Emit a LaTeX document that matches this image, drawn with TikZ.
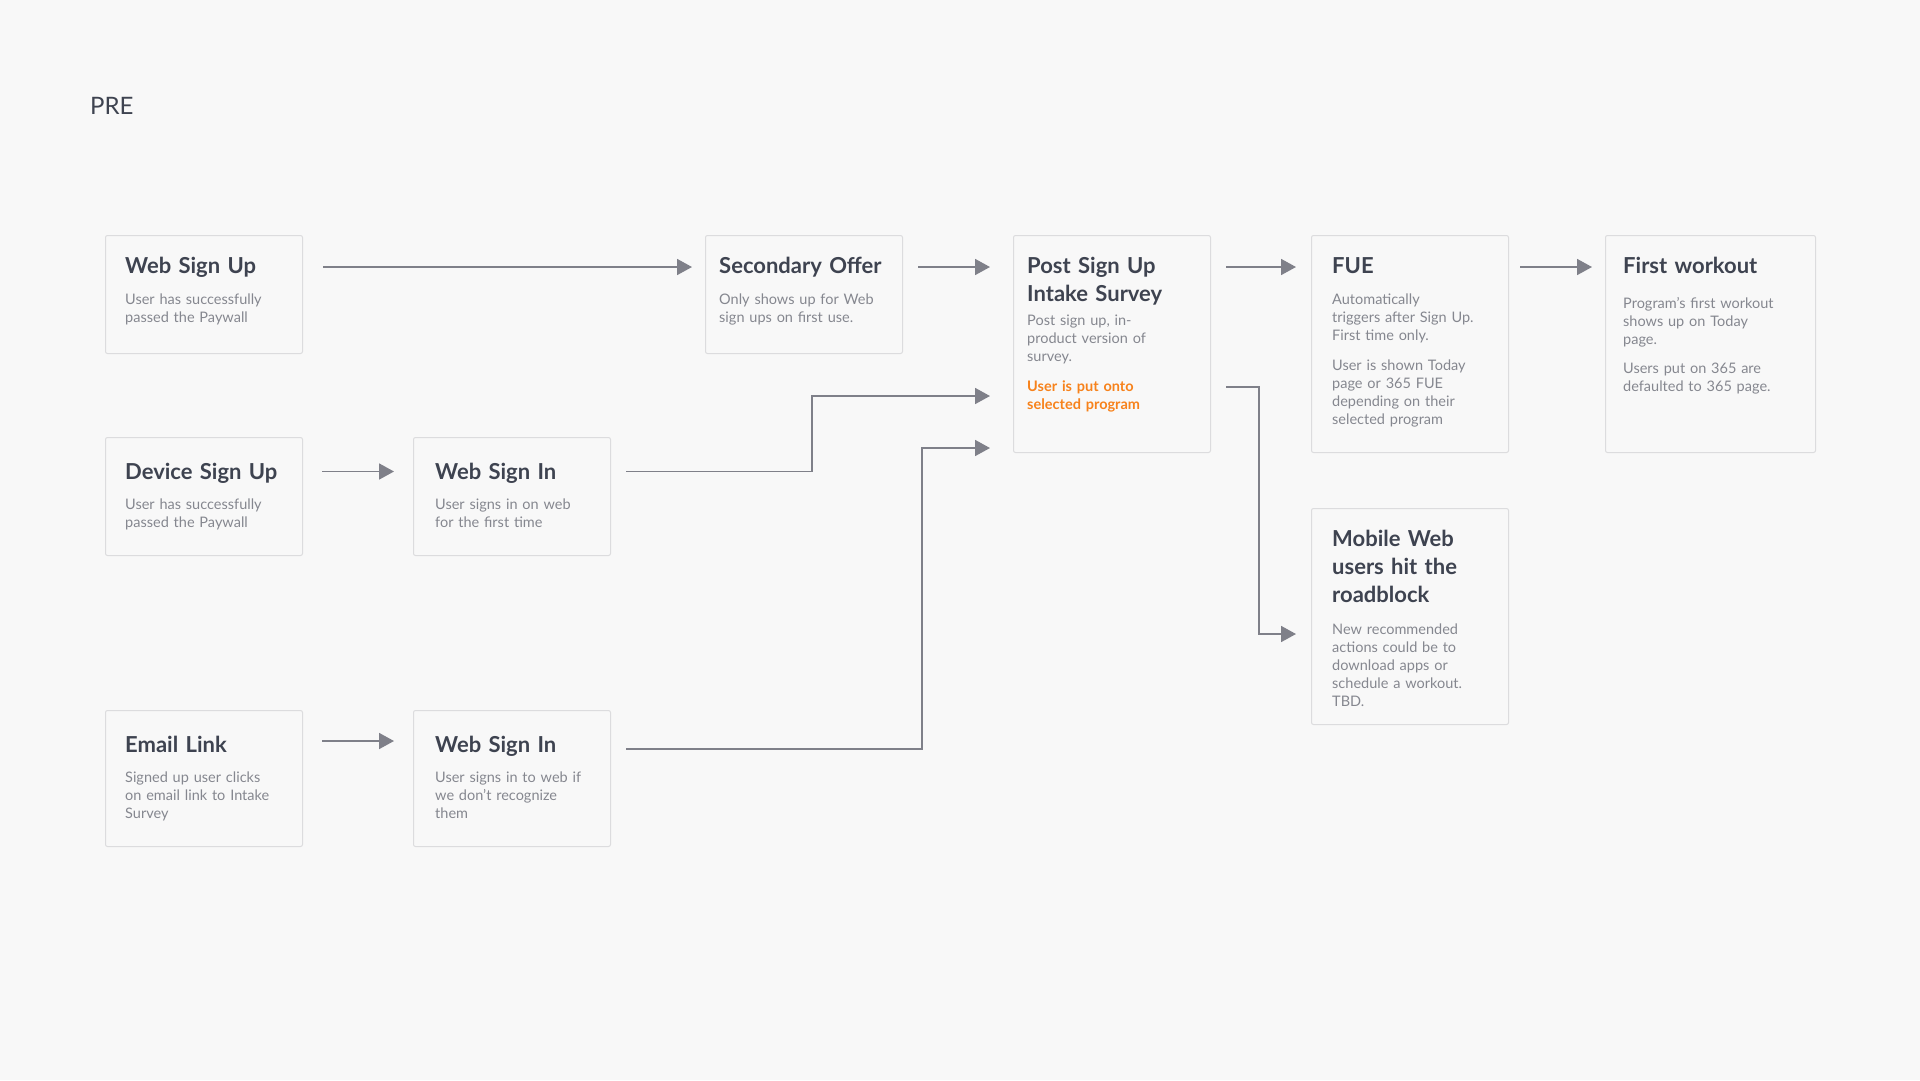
\documentclass[tikz,border=0pt]{standalone}
\usepackage{fontspec}
\setmainfont{Lato}
\usetikzlibrary{positioning,arrows.meta}

\definecolor{paper}{HTML}{F8F8F8}
\definecolor{frame}{HTML}{DCDCDE}
\definecolor{ink}{HTML}{3E4350}
\definecolor{slate}{HTML}{85878F}
\definecolor{wire}{HTML}{7F8089}
\definecolor{picked}{HTML}{F7821B}

\begin{document}
\begin{tikzpicture}[x=1pt,y=-1pt,
  card/.style={draw=frame,line width=1pt,fill=paper,rounded corners=2pt,
    anchor=north west,inner sep=0pt,minimum width=197pt},
  heading/.style={inner sep=0pt,text width=250pt,align=left,text=ink,
    font=\fontsize{22}{28}\selectfont\bfseries,
    execute at begin node=\strut,execute at end node=\strut},
  blurb/.style={inner sep=0pt,text width=250pt,align=left,text=slate,
    font=\fontsize{14.5}{18}\selectfont,execute at begin node=\strut},
  flow/.style={draw=wire,line width=1.8pt,-{Triangle[length=15pt,width=16pt]},
    shorten <=15pt,shorten >=15pt}]

  \fill[paper] (0,0) rectangle (1920,1080);
  \useasboundingbox (0,0) rectangle (1920,1080);

  \node[anchor=base west,inner sep=0pt,text=ink,font=\fontsize{24}{30}\selectfont] (pre) at (90,114) {PRE};

  % top row
  \node[card,minimum height=118pt] (websignup) at (105,235) {};
  \node[heading,below right=18.4pt and 20pt of websignup.north west] (websignup-t) {Web Sign Up};
  \node[blurb,below right=10pt and 0pt of websignup-t.south west] (websignup-d) {User has successfully\\passed the Paywall};

  \node[card,minimum height=118pt] (offer) at (705,235) {};
  \node[heading,below right=18.4pt and 14pt of offer.north west] (offer-t) {Secondary Offer};
  \node[blurb,below right=10pt and 0pt of offer-t.south west] (offer-d) {Only shows up for Web\\sign ups on first use.};

  \node[card,minimum height=217pt] (survey) at (1013,235) {};
  \node[heading,below right=18.4pt and 14pt of survey.north west] (survey-t) {Post Sign Up\\Intake Survey};
  \node[blurb,below right=3pt and 0pt of survey-t.south west] (survey-d) {Post sign up, in-\\product version of\\survey.\par\vspace{12pt}%
    {\color{picked}\bfseries User is put onto\\selected program}};

  \node[card,minimum height=217pt] (fue) at (1311,235) {};
  \node[heading,below right=18.4pt and 21pt of fue.north west] (fue-t) {FUE};
  \node[blurb,below right=10pt and 0pt of fue-t.south west] (fue-d) {Automatically\\triggers after Sign Up.\\First time only.\par\vspace{12pt}%
    User is shown Today\\page or 365 FUE\\depending on their\\selected program};

  \node[card,minimum width=210pt,minimum height=217pt] (workout) at (1605,235) {};
  \node[heading,below right=18.4pt and 18pt of workout.north west] (workout-t) {First workout};
  \node[blurb,below right=14pt and 0pt of workout-t.south west] (workout-d) {Program’s first workout\\shows up on Today\\page.\par\vspace{11pt}%
    Users put on 365 are\\defaulted to 365 page.};

  % second row
  \node[card,minimum height=118pt] (device) at (105,437) {};
  \node[heading,below right=22.4pt and 20pt of device.north west] (device-t) {Device Sign Up};
  \node[blurb,below right=9pt and 0pt of device-t.south west] (device-d) {User has successfully\\passed the Paywall};

  \node[card,minimum height=118pt] (signinweb) at (413,437) {};
  \node[heading,below right=22.4pt and 22pt of signinweb.north west] (signinweb-t) {Web Sign In};
  \node[blurb,below right=9pt and 0pt of signinweb-t.south west] (signinweb-d) {User signs in on web\\for the first time};

  \node[card,minimum height=216pt] (mobile) at (1311,508) {};
  \node[heading,below right=18.4pt and 21pt of mobile.north west] (mobile-t) {Mobile Web\\users hit the\\roadblock};
  \node[blurb,below right=11pt and 0pt of mobile-t.south west] (mobile-d) {New recommended\\actions could be to\\download apps or\\schedule a workout.\\TBD.};

  % third row
  \node[card,minimum height=136pt] (email) at (105,710) {};
  \node[heading,below right=22.4pt and 20pt of email.north west] (email-t) {Email Link};
  \node[blurb,below right=9pt and 0pt of email-t.south west] (email-d) {Signed up user clicks\\on email link to Intake\\Survey};

  \node[card,minimum height=136pt] (signinlink) at (413,710) {};
  \node[heading,below right=22.4pt and 22pt of signinlink.north west] (signinlink-t) {Web Sign In};
  \node[blurb,below right=9pt and 0pt of signinlink-t.south west] (signinlink-d) {User signs in to web if\\we don’t recognize\\them};

  % connectors
  \coordinate (survey-in1) at ([yshift=-161pt]survey.north west);
  \coordinate (survey-in2) at ([yshift=-213pt]survey.north west);
  \coordinate (mobile-in) at ([yshift=-126pt]mobile.north west);

  \draw[flow,shorten <=20pt,shorten >=13pt] ([yshift=-32pt]websignup.north east) -- ([yshift=-32pt]offer.north west);
  \draw[flow,shorten >=23pt] ([yshift=-32pt]offer.north east) -- ([yshift=-32pt]survey.north west);
  \draw[flow] ([yshift=-32pt]survey.north east) -- ([yshift=-32pt]fue.north west);
  \draw[flow,shorten <=11pt,shorten >=13pt] ([yshift=-32pt]fue.north east) -- ([yshift=-32pt]workout.north west);
  \draw[flow,shorten <=19pt,shorten >=19pt] ([yshift=-34.5pt]device.north east) -- ([yshift=-34.5pt]signinweb.north west);
  \draw[flow,shorten <=19pt,shorten >=19pt] ([yshift=-31pt]email.north east) -- ([yshift=-31pt]signinlink.north west);
  \draw[flow,shorten >=23pt] ([yshift=-34.5pt]signinweb.north east) -| ([xshift=-201pt]survey-in1) -- (survey-in1);
  \draw[flow,shorten >=23pt] ([yshift=-39pt]signinlink.north east) -| ([xshift=-91pt]survey-in2) -- (survey-in2);
  \draw[flow] ([yshift=-152pt]survey.north east) -| ([xshift=-52pt]mobile-in) -- (mobile-in);
\end{tikzpicture}
\end{document}
